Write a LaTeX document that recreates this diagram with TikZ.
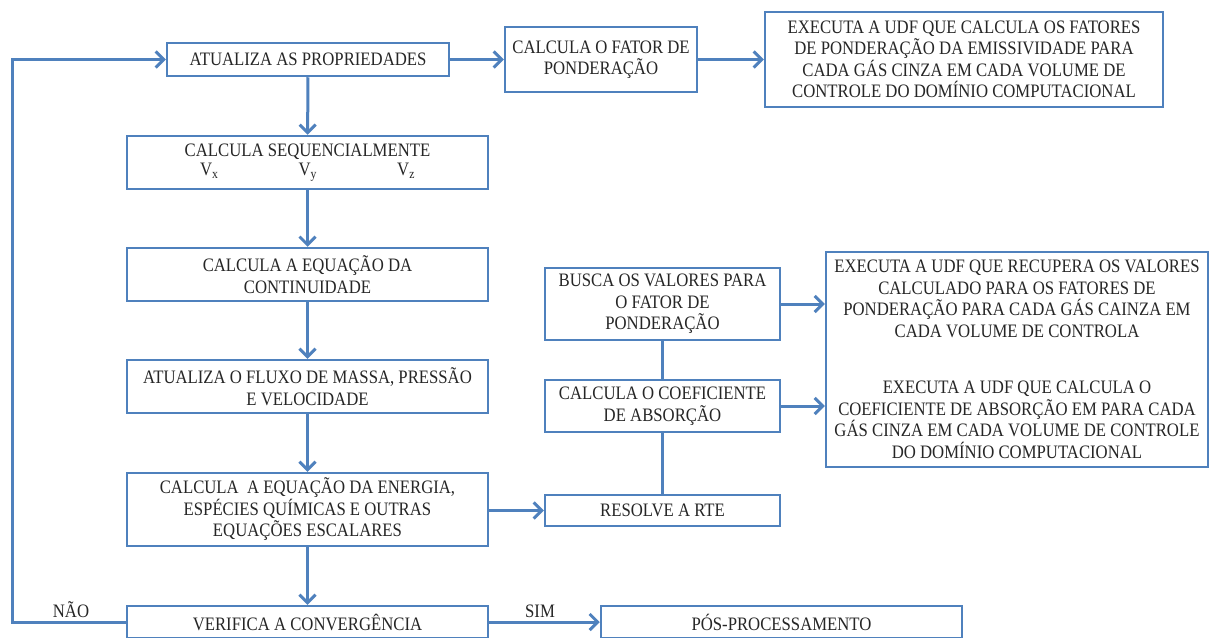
\documentclass[tikz,border=0pt]{standalone}
\usepackage{fontspec}
\setmainfont{Liberation Serif}[FakeStretch=0.88]
\usetikzlibrary{arrows.meta}
\definecolor{bl}{HTML}{4F81BD}
\definecolor{tx}{HTML}{262626}
\begin{document}
\begin{tikzpicture}[x=1pt,y=-1pt,
  box/.style={draw=bl, line width=2.5pt, inner sep=0pt, align=center, text=tx,
    font=\fontsize{19}{21.5}\selectfont},
  txt/.style={inner sep=0pt, align=center, text=tx, font=\fontsize{19}{21.5}\selectfont},
  arr/.style={draw=bl, line width=3pt, -{Straight Barb[length=8pt,width=16pt,line width=3pt]}},
  ln/.style={draw=bl, line width=3pt}]
\useasboundingbox (0,0) rectangle (1214,637);
\fill[white] (0,0) rectangle (1214,637);
\node[box, minimum width=282, minimum height=33] (prop) at (308,59.5) {ATUALIZA AS PROPRIEDADES};
\node[box, minimum width=361, minimum height=53] (seq) at (307.5,162.5) {CALCULA SEQUENCIALMENTE\\[-2pt]\makebox[215pt]{V\textsubscript{x}\hfill V\textsubscript{y}\hfill V\textsubscript{z}}};
\node[box, minimum width=361, minimum height=53] (cont) at (307.5,274.5) {CALCULA A EQUAÇÃO DA\\CONTINUIDADE};
\node[box, minimum width=361, minimum height=53] (flux) at (307.5,386.5) {ATUALIZA O FLUXO DE MASSA, PRESSÃO\\E VELOCIDADE};
\node[box, minimum width=361, minimum height=73] (energ) at (307.5,509.5) {CALCULA\ \ A EQUAÇÃO DA ENERGIA,\\ESPÉCIES QUÍMICAS E OUTRAS\\EQUAÇÕES ESCALARES};
\node[box, minimum width=361, minimum height=32] (verif) at (307.5,622) {VERIFICA A CONVERGÊNCIA};
\node[box, minimum width=361, minimum height=32] (pos) at (781.5,622) {PÓS-PROCESSAMENTO};
\node[box, minimum width=192, minimum height=65] (fator) at (601,59.5) {CALCULA O FATOR DE\\PONDERAÇÃO};
\node[box, minimum width=398, minimum height=95] (exec) at (964,59.5) {EXECUTA A UDF QUE CALCULA OS FATORES\\DE PONDERAÇÃO DA EMISSIVIDADE PARA\\CADA GÁS CINZA EM CADA VOLUME DE\\CONTROLE DO DOMÍNIO COMPUTACIONAL};
\node[box, minimum width=235, minimum height=72] (busca) at (662.5,304) {BUSCA OS VALORES PARA\\O FATOR DE\\PONDERAÇÃO};
\node[box, minimum width=235, minimum height=52] (coef) at (662.5,406) {CALCULA O COEFICIENTE\\DE ABSORÇÃO};
\node[box, minimum width=235, minimum height=31] (rte) at (662.5,510.5) {RESOLVE A RTE};
\node[box, minimum width=382, minimum height=215] (big) at (1017,359.5) {};
\node[txt] (bigA) at (1017,299) {EXECUTA A UDF QUE RECUPERA OS VALORES\\CALCULADO PARA OS FATORES DE\\PONDERAÇÃO PARA CADA GÁS CAINZA EM\\CADA VOLUME DE CONTROLA};
\node[txt] (bigB) at (1017,420) {EXECUTA A UDF QUE CALCULA O\\COEFICIENTE DE ABSORÇÃO EM PARA CADA\\GÁS CINZA EM CADA VOLUME DE CONTROLE\\DO DOMÍNIO COMPUTACIONAL};
\node[txt, anchor=base] (nao) at (71,617) {NÃO};
\node[txt, anchor=base] (sim) at (540,617) {SIM};
\coordinate (lpx) at (12,0);
% connectors
\draw[arr] (prop) -- (seq);
\draw[arr] (seq) -- (cont);
\draw[arr] (cont) -- (flux);
\draw[arr] (flux) -- (energ);
\draw[arr] (energ) -- (verif);
\draw[arr] (prop) -- (fator);
\draw[arr] (fator) -- (exec);
\draw[arr] (verif) -- (pos);
\draw[arr] (energ.east |- rte.west) -- (rte.west);
\draw[arr] (busca.east) -- (busca.east -| big.west);
\draw[arr] (coef.east) -- (coef.east -| big.west);
\draw[ln] (busca) -- (coef);
\draw[ln] (coef) -- (rte);
\draw[arr] (verif.west) -- (verif.west -| lpx) |- (prop.west);
\end{tikzpicture}
\end{document}
